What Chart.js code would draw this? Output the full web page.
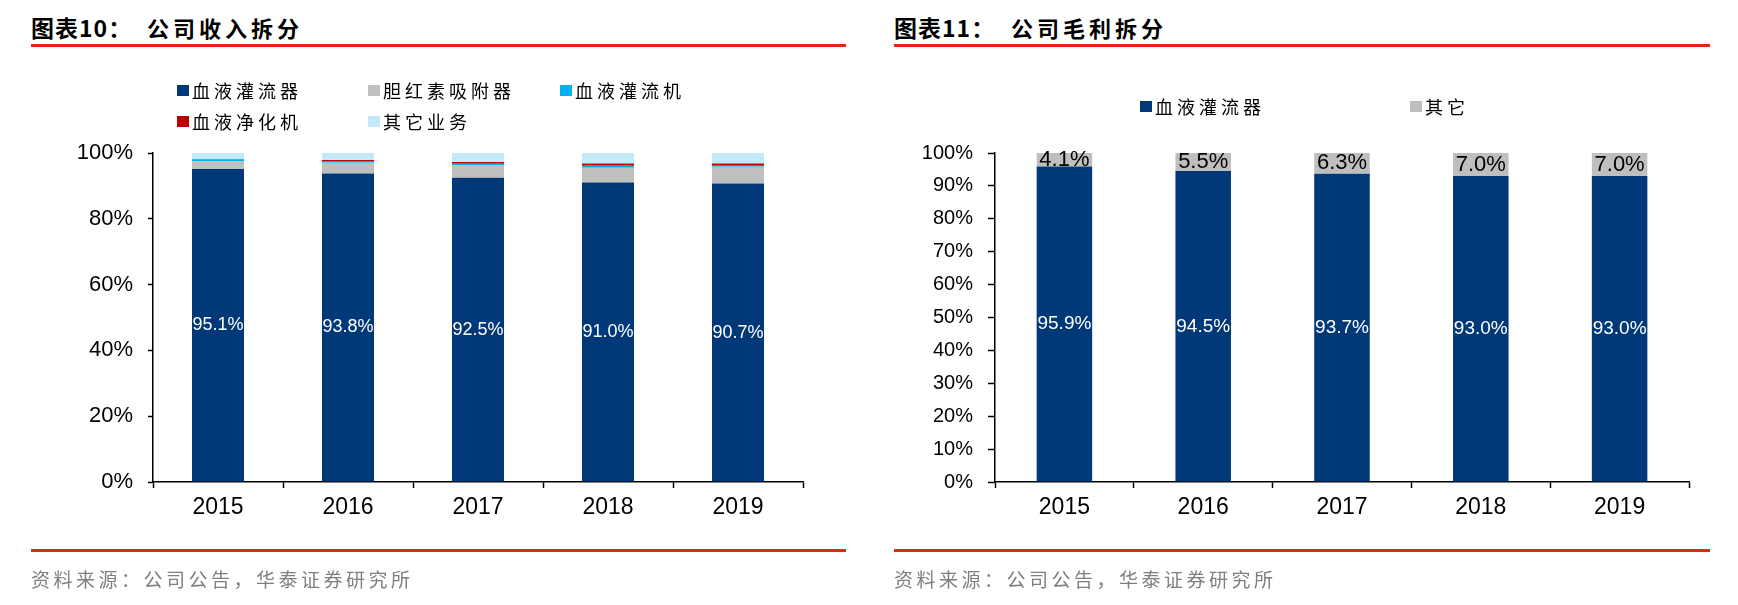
<!DOCTYPE html>
<html lang="zh-CN">
<head>
  <meta charset="UTF-8" />
  <title>公司收入拆分 / 公司毛利拆分</title>
  <script src="https://cdn.jsdelivr.net/npm/chart.js"></script>
  <style>
    body {
      margin: 0;
      width: 1738px;
      height: 605px;
      background: #fff;
      position: relative;
      overflow: hidden;
      font-family: "Noto Sans CJK SC", sans-serif;
    }
    canvas { position: absolute; top: 0; }
    .title {
      position: absolute;
      top: 12px;
      font-size: 22px;
      font-weight: bold;
      line-height: 30px;
      letter-spacing: 4px;
      color: #000;
      white-space: nowrap;
    }
    .title.pre { letter-spacing: 1px; font-size: 23px; }
    .rule { position: absolute; height: 3px; background: #e5260f; }
    .legend { position: absolute; font-size: 18px; line-height: 24px; letter-spacing: 4px; color: #000; white-space: nowrap; }
    .swatch { position: absolute; width: 12px; height: 11px; }
    .source {
      position: absolute;
      top: 566px;
      font-size: 19px;
      line-height: 26px;
      letter-spacing: 3.5px;
      color: #7f7f7f;
      white-space: nowrap;
    }
  </style>
</head>
<body>
  <div class="title pre" style="left:31px">图表10：</div>
  <div class="title" style="left:147px">公司收入拆分</div>
  <div class="rule" style="left:31px; width:815px; top:44px"></div>
  <div class="title pre" style="left:894px">图表11：</div>
  <div class="title" style="left:1011px">公司毛利拆分</div>
  <div class="rule" style="left:894px; width:816px; top:44px"></div>

  <canvas id="revenue" width="870" height="605" style="left:0"></canvas>
  <canvas id="profit" width="868" height="605" style="left:870px"></canvas>

  <div class="rule" style="left:31px; width:815px; top:549px"></div>
  <div class="rule" style="left:894px; width:816px; top:549px"></div>
  <div class="source" style="left:31px">资料来源：公司公告，华泰证券研究所</div>
  <div class="source" style="left:894px">资料来源：公司公告，华泰证券研究所</div>

  <script>
    // 数据
    const years = ['2015', '2016', '2017', '2018', '2019'];

    // 图表10 收入拆分 (%)
    const revNames = ['血液灌流器', '胆红素吸附器', '血液灌流机', '血液净化机', '其它业务'];
    const revColors = ['#003878', '#bfbfbf', '#00b0f0', '#c00000', '#c2eaf9'];
    const revPerfusor = [95.1, 93.8, 92.5, 91.0, 90.7];
    const revBilirubin = [2.4, 3.2, 3.7, 4.5, 5.1];
    const revPerfusionMachine = [0.6, 0.6, 0.5, 0.6, 0.3];
    const revPurifier = [0.1, 0.3, 0.6, 0.7, 0.7];
    const revOther = [1.8, 2.1, 2.7, 3.2, 3.2];
    const revTicks = [0, 20, 40, 60, 80, 100];

    // 图表11 毛利拆分 (%)
    const gpNames = ['血液灌流器', '其它'];
    const gpColors = ['#003878', '#bfbfbf'];
    const gpPerfusor = [95.9, 94.5, 93.7, 93.0, 93.0];
    const gpOther = [4.1, 5.5, 6.3, 7.0, 7.0];
    const gpTicks = [0, 10, 20, 30, 40, 50, 60, 70, 80, 90, 100];

    // 柱内数值标签
    const barLabels = {
      id: 'barLabels',
      afterDatasetsDraw(chart, args, opts) {
        const ctx = chart.ctx;
        (opts.items || []).forEach(function (it) {
          const meta = chart.getDatasetMeta(it.dataset);
          const values = chart.data.datasets[it.dataset].data;
          ctx.save();
          ctx.font = it.font;
          ctx.fillStyle = it.color;
          ctx.textAlign = 'center';
          ctx.textBaseline = 'middle';
          meta.data.forEach(function (bar, i) {
            ctx.fillText(values[i].toFixed(1) + '%', bar.x, (bar.y + bar.base) / 2);
          });
          ctx.restore();
        });
      }
    };

    function makeChart(id, names, colors, series, ticks, cfg) {
      const datasets = series.map(function (data, i) {
        return {
          label: names[i],
          data: data,
          backgroundColor: colors[i],
          borderWidth: 0,
          barPercentage: 0.4,
          categoryPercentage: 1.0
        };
      });
      return new Chart(document.getElementById(id), {
        type: 'bar',
        data: { labels: years, datasets: datasets },
        plugins: [barLabels],
        options: {
          responsive: false,
          animation: false,
          layout: { padding: { left: 0, top: 153, right: cfg.padRight, bottom: 73 } },
          plugins: {
            legend: { display: false },
            tooltip: { enabled: false },
            barLabels: { items: cfg.labels }
          },
          scales: {
            x: {
              stacked: true,
              afterFit: function (s) { s.height = 50; },
              grid: { drawOnChartArea: false, tickColor: '#000', tickLength: 6, tickWidth: 1.5 },
              border: { color: '#000', width: 1.5 },
              ticks: { color: '#000', padding: 6, font: { family: 'Liberation Sans', size: 23 } }
            },
            y: {
              stacked: true,
              min: 0,
              max: 100,
              afterFit: function (s) { s.width = cfg.axisLeft; },
              afterBuildTicks: function (s) { s.ticks = ticks.map(function (v) { return { value: v }; }); },
              grid: { drawOnChartArea: false, tickColor: '#000', tickLength: cfg.tickLen, tickWidth: 1.5 },
              border: { color: '#000', width: 1.5 },
              ticks: {
                color: '#000',
                padding: 15,
                autoSkip: false,
                font: { family: 'Liberation Sans', size: cfg.yFont },
                callback: function (v) { return v + '%'; }
              }
            }
          }
        }
      });
    }

    makeChart('revenue', revNames, revColors,
      [revPerfusor, revBilirubin, revPerfusionMachine, revPurifier, revOther], revTicks, {
        axisLeft: 153, padRight: 67, tickLen: 5, yFont: 22,
        labels: [{ dataset: 0, color: '#fff', font: '18px "Liberation Sans"' }]
      });

    makeChart('profit', gpNames, gpColors, [gpPerfusor, gpOther], gpTicks, {
      axisLeft: 125, padRight: 49, tickLen: 7, yFont: 20,
      labels: [
        { dataset: 0, color: '#fff', font: '19px "Liberation Sans"' },
        { dataset: 1, color: '#000', font: '22px "Liberation Sans"' }
      ]
    });

    // 图例
    function addLegend(names, colors, spots) {
      names.forEach(function (name, i) {
        const p = spots[i];
        const sw = document.createElement('div');
        sw.className = 'swatch';
        sw.style.left = p[0] + 'px';
        sw.style.top = (p[1] - 5) + 'px';
        sw.style.background = colors[i];
        document.body.appendChild(sw);
        const tx = document.createElement('div');
        tx.className = 'legend';
        tx.textContent = name;
        tx.style.left = (p[0] + 15) + 'px';
        tx.style.top = (p[1] - 12) + 'px';
        document.body.appendChild(tx);
      });
    }
    addLegend(revNames, revColors, [[177, 90], [368, 90], [560, 90], [177, 121], [368, 121]]);
    addLegend(gpNames, gpColors, [[1140, 106], [1410, 106]]);
  </script>
</body>
</html>
